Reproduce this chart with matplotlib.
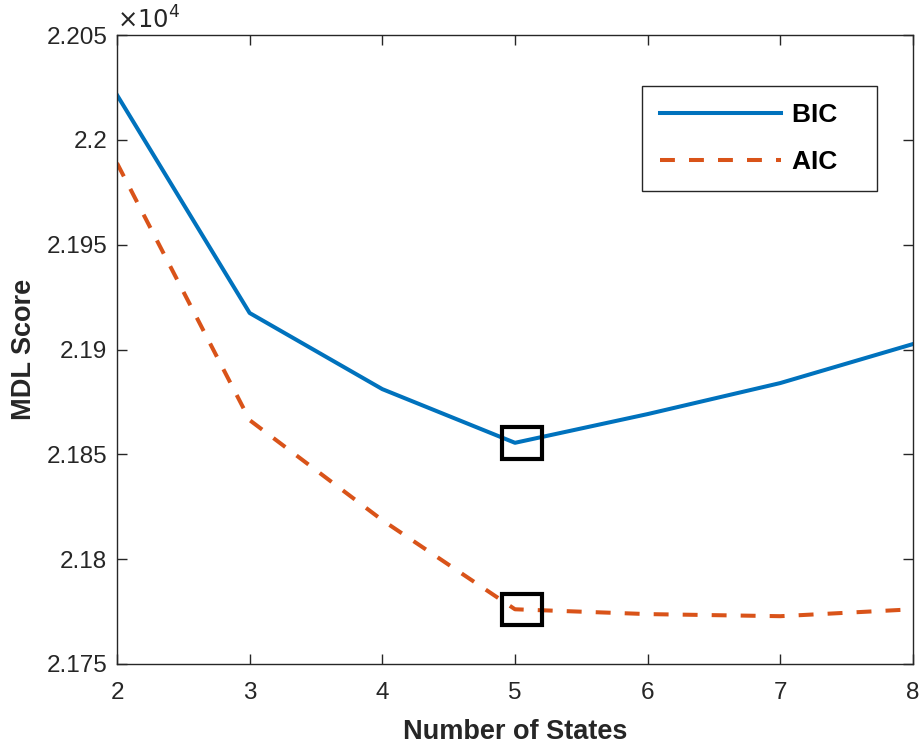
import matplotlib
matplotlib.use("Agg")
import matplotlib.pyplot as plt
from matplotlib.ticker import FixedLocator
from matplotlib.patches import Rectangle

plt.rcParams['font.family'] = ['Liberation Sans', 'DejaVu Sans']

states = [2, 3, 4, 5, 6, 7, 8]
bic = [22021.4, 21917.4, 21881.1, 21855.5, 21869.2, 21884.0, 21902.6]
aic = [21988.9, 21866.3, 21818.6, 21776.1, 21773.8, 21772.8, 21776.1]
best_k = 5
yticks = [21750, 21800, 21850, 21900, 21950, 22000, 22050]
ytick_labels = ['2.175', '2.18', '2.185', '2.19', '2.195', '2.2', '2.205']

blue = '#0072BD'
orange = '#D95319'
dark = '#262626'

fig = plt.figure(figsize=(9.22, 7.48), dpi=100)
ax = fig.add_axes([0.1269, 0.1123, 0.9902 - 0.1269, 0.9532 - 0.1123])

ax.plot(states, bic, color=blue, lw=2.9, label='BIC   ')
l2, = ax.plot(states, aic, color=orange, lw=2.9, label='AIC   ')
l2.set_dashes([3.7, 3.5])

# highlight boxes around the selected model
i = states.index(best_k)
box_w, box_h = 0.3, 15.0
for s in (bic, aic):
    ax.add_patch(Rectangle((states[i] - 0.1, s[i] - box_h / 2), box_w, box_h,
                           fill=False, ec='black', lw=3.0, zorder=5,
                           joinstyle='miter'))

ax.set_xlim(2, 8)
ax.set_ylim(21750, 22050)
ax.xaxis.set_major_locator(FixedLocator(states))
ax.yaxis.set_major_locator(FixedLocator(yticks))
ax.set_yticklabels(ytick_labels)

ax.tick_params(direction='in', length=7, width=1, colors=dark, labelsize=17.5,
               top=True, right=True)
ax.tick_params(axis='x', pad=13)
ax.tick_params(axis='y', pad=7)
for sp in ax.spines.values():
    sp.set_color(dark)
    sp.set_linewidth(1.0)

ax.text(0.0, 1.003, r'$\times10^{4}$', transform=ax.transAxes, fontsize=17.5,
        color=dark, ha='left', va='bottom')

ax.set_xlabel('Number of States', fontsize=19.5, fontweight='bold', color=dark, labelpad=11)
ax.set_ylabel('MDL Score', fontsize=19.5, fontweight='bold', color=dark, labelpad=6.5)

leg = ax.legend(loc='upper right', bbox_to_anchor=(0.9548, 0.9190),
                prop={'weight': 'bold', 'size': 19}, handlelength=4.6,
                handletextpad=0.42, borderpad=0.66, labelspacing=0.85,
                borderaxespad=0.0,
                fancybox=False, framealpha=1, edgecolor=dark)
leg.get_frame().set_linewidth(1.0)

fig.savefig('out.png', dpi=100)
